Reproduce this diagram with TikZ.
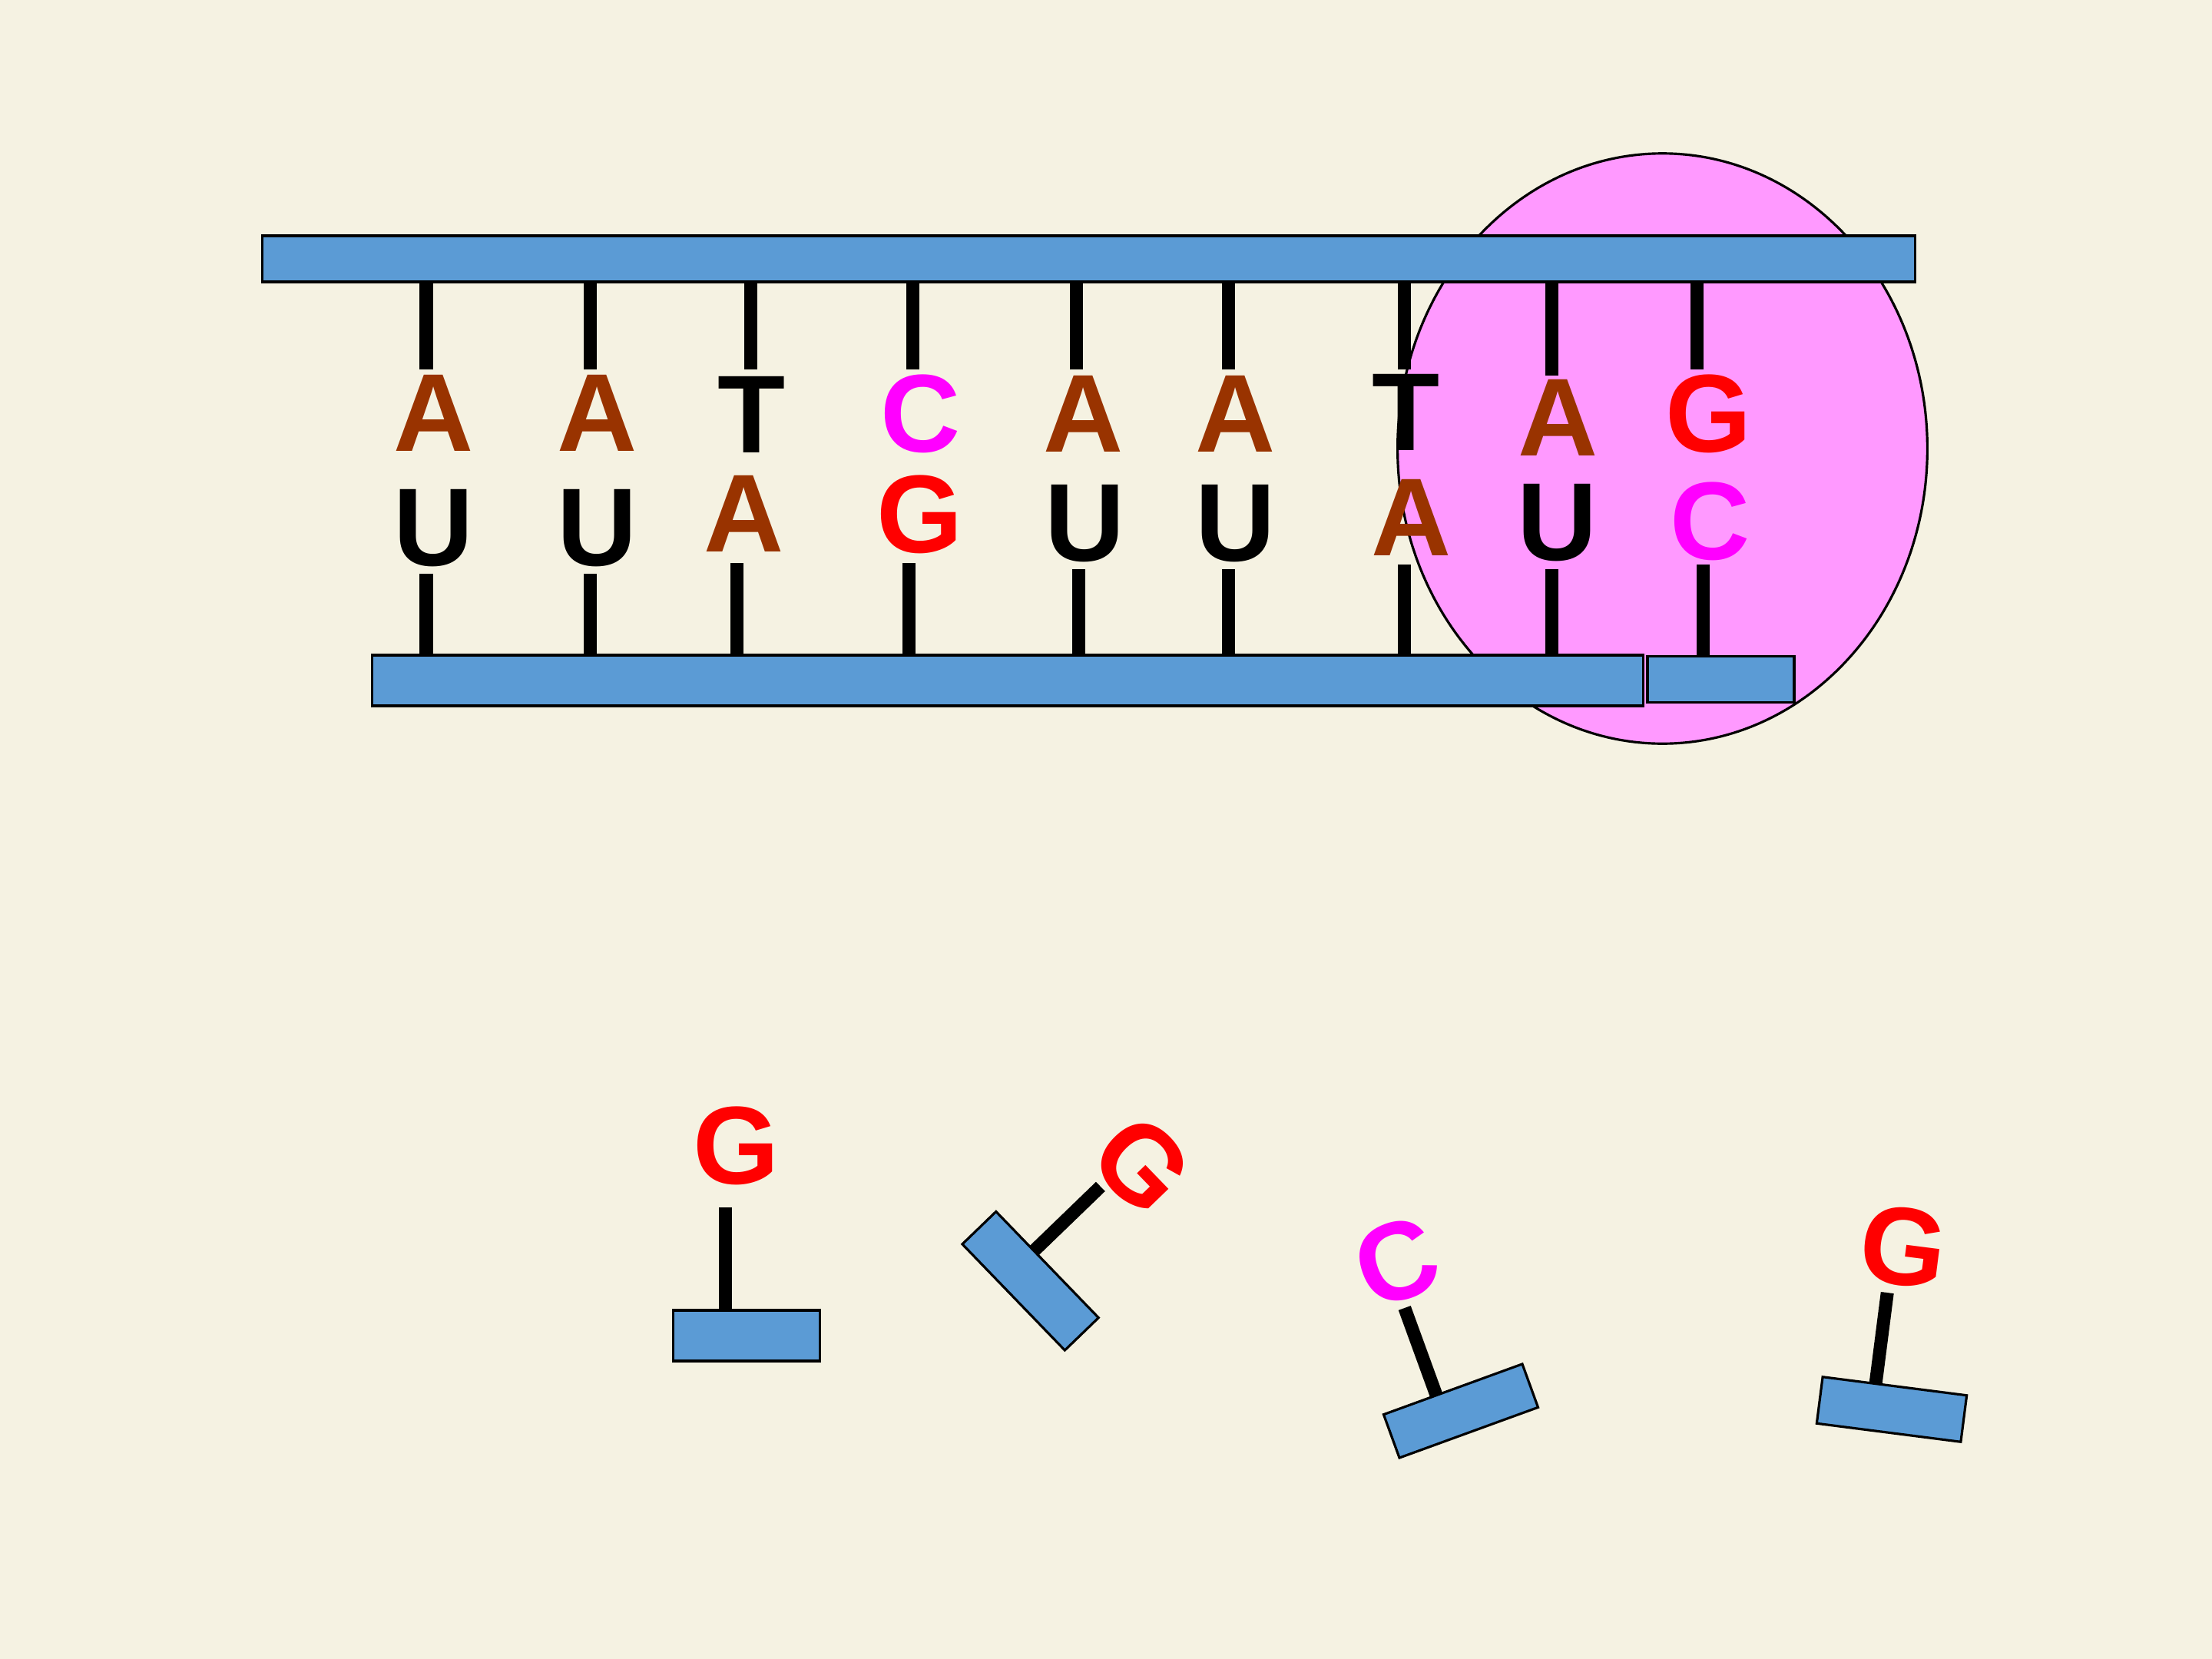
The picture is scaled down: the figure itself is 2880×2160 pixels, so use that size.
\documentclass[tikz,border=0pt]{standalone}
\usepackage{fontspec}
\setmainfont{Liberation Sans}
\usetikzlibrary{shapes.geometric}
\definecolor{bgc}{RGB}{245,242,226}
\definecolor{barc}{RGB}{91,155,213}
\definecolor{pinkE}{RGB}{255,153,255}
\definecolor{brownA}{RGB}{153,51,0}
\definecolor{magC}{RGB}{255,0,255}
\definecolor{redG}{RGB}{255,0,0}
\begin{document}
\begin{tikzpicture}[x=0.01cm,y=-0.01cm,
  barbox/.style={draw=black,line width=0.9pt,fill=barc,rectangle,inner sep=0pt},
  stick/.style={line width=0.17cm,black},
  basel/.style={inner sep=0pt,font=\fontsize{41}{41}\selectfont\bfseries},
  lA/.style={basel,text=brownA},
  lT/.style={basel,text=black},
  lU/.style={basel,text=black},
  lC/.style={basel,text=magC},
  lG/.style={basel,text=redG}]
\useasboundingbox (0,0) rectangle (2880,2160);
\fill[bgc] (0,0) rectangle (2880,2160);
% enzyme
\node[ellipse,draw=black,line width=0.9pt,fill=pinkE,inner sep=0pt,
  minimum width=6.894cm,minimum height=7.68cm] (enz) at (2164.5,584) {};
% bars
\node[barbox,minimum width=21.51cm,minimum height=0.60cm] (top) at (1417.5,337) {};
\node[barbox,minimum width=16.54cm,minimum height=0.66cm] (bot) at (1312,886) {};
\node[barbox,minimum width=1.91cm,minimum height=0.60cm] (bsm) at (2240.5,884.6) {};
% upper sticks
\foreach \x/\e in {555/481,768/481,977/481,1188/481,1401/481,1599/481,1828/481,2020/489,2209/481}
  \draw[stick] (\x,367) -- (\x,\e);
% lower sticks
\foreach \x/\s in {555/747,768/747,959/733,1183/733,1404/741,1599/741,1828/735,2020/741,2217/735}
  \draw[stick] (\x,\s) -- (\x,853);
% top letters
\node[lA] (t1) at (565,538) {A};
\node[lA] (t2) at (778,538) {A};
\node[lT] (t3) at (979,539.5) {T};
\node[lC] (t4) at (1199,538.5) {C};
\node[lA] (t5) at (1411,538.5) {A};
\node[lA] (t6) at (1609,538.5) {A};
\node[lT] (t7) at (1831,537) {T};
\node[lA] (t8) at (2029,543.5) {A};
\node[lG] (t9) at (2225,538.5) {G};
% bottom letters
\node[lU] (b1) at (565,688) {U};
\node[lU] (b2) at (778,688) {U};
\node[lA] (b3) at (969,669) {A};
\node[lG] (b4) at (1198,670) {G};
\node[lU] (b5) at (1413,682) {U};
\node[lU] (b6) at (1609,682) {U};
\node[lA] (b7) at (1838,674) {A};
\node[lU] (b8) at (2028,681) {U};
\node[lC] (b9) at (2227,679) {C};
% free nucleotide 1
\begin{scope}[shift={(972,1739)}]
  \draw[stick] (-28,-33) -- (-28,-167);
  \node[barbox,minimum width=1.91cm,minimum height=0.66cm] (r1) at (0,0) {};
  \node[lG] (f1) at (-13,-247) {G};
\end{scope}
% free nucleotide 2
\begin{scope}[shift={(1341.6,1667.75)},rotate=-46]
  \draw[stick] (-25,-30) -- (-25,-151);
  \node[barbox,minimum width=1.92cm,minimum height=0.61cm,transform shape] (r2) at (0,0) {};
  \node[lG,transform shape] (f2) at (-8,-210) {G};
\end{scope}
% free nucleotide 3
\begin{scope}[shift={(1902,1837)},rotate=20]
  \draw[stick] (-23,-30) -- (-23,-151);
  \node[barbox,minimum width=1.92cm,minimum height=0.60cm,transform shape] (r3) at (0,0) {};
  \node[lC,transform shape] (f3) at (-12,-211) {C};
\end{scope}
% free nucleotide 4
\begin{scope}[shift={(2463,1835)},rotate=-7.3]
  \draw[stick] (-25,-30) -- (-25,-150);
  \node[barbox,minimum width=1.89cm,minimum height=0.61cm,transform shape] (r4) at (0,0) {};
  \node[lG,transform shape] (f4) at (-12,-212) {G};
\end{scope}
\end{tikzpicture}
\end{document}
